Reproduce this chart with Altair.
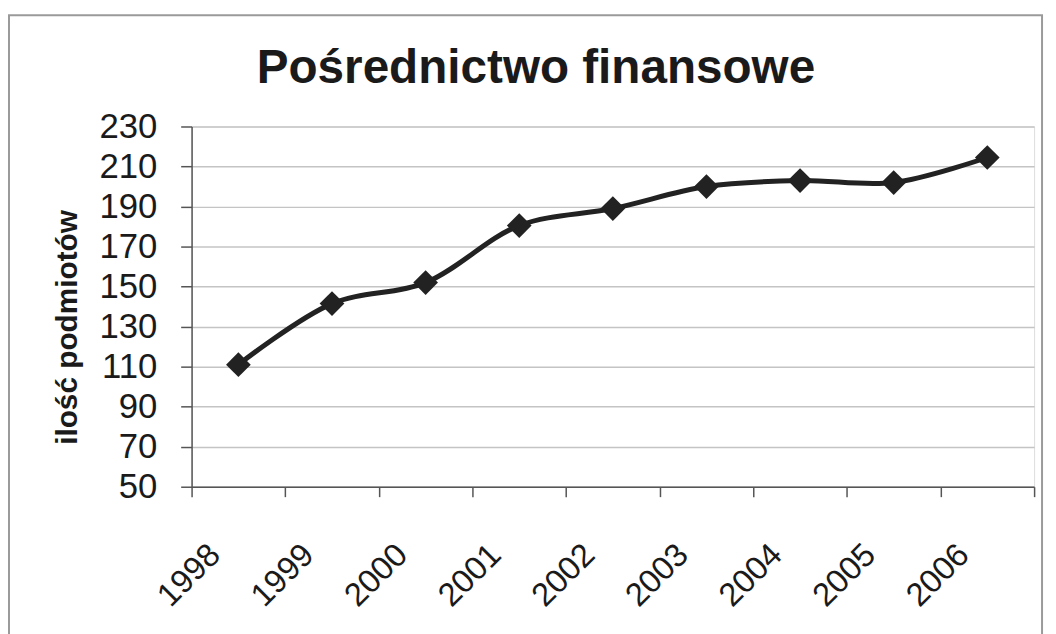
import altair as alt
import pandas as pd

years = ["1998", "1999", "2000", "2001", "2002", "2003", "2004", "2005", "2006"]
values = [111, 141.5, 152, 180.5, 189, 200, 203, 202, 214.5]
y_ticks = [50, 70, 90, 110, 130, 150, 170, 190, 210, 230]
title_text = "Pośrednictwo finansowe"
y_title = "ilość podmiotów"

df = pd.DataFrame({"rok": years, "ilosc": values})

FONT = "Liberation Sans"
INK = "#1a1a1a"

x_enc = alt.X(
    "rok:N",
    sort=years,
    scale=alt.Scale(paddingInner=0, paddingOuter=0),
    axis=alt.Axis(
        title=None,
        tickBand="extent",
        labelAngle=-45,
        labelAlign="right",
        labelBaseline="middle",
        labelFont=FONT,
        labelFontSize=33,
        labelColor=INK,
        labelPadding=53,
        labelOffset=-24,
        labelFlush=False,
        labelOverlap=False,
        tickSize=10,
        tickColor="#555",
        tickWidth=1.5,
        domainColor="#555",
        domainWidth=1.5,
        grid=False,
    ),
)
y_enc = alt.Y(
    "ilosc:Q",
    scale=alt.Scale(domain=[50, 230], nice=False, zero=False),
    axis=alt.Axis(
        title=y_title,
        values=y_ticks,
        titleFont=FONT,
        titleFontSize=30,
        titleFontWeight="bold",
        titleColor=INK,
        titleAngle=-90,
        titleX=-125,
        titleY=202,
        titleAlign="center",
        titleBaseline="middle",
        labelFont=FONT,
        labelFontSize=35,
        labelColor=INK,
        labelPadding=24,
        tickSize=11,
        tickColor="#555",
        tickWidth=1.5,
        domainColor="#555",
        domainWidth=1.5,
        gridColor="#c4c4c4",
        gridWidth=1.5,
    ),
)

base = alt.Chart(df)

line = base.mark_line(
    interpolate="catmull-rom", color="#222", strokeWidth=5
).encode(x=x_enc, y=y_enc)

points = base.mark_point(
    shape="diamond", filled=True, size=620, color="#222", opacity=1
).encode(x=x_enc, y=y_enc)

frame = alt.Chart(pd.DataFrame({"a": [0]})).mark_rect(
    fill=None, stroke="#9a9a9a", strokeWidth=2, clip=False
).encode(
    x=alt.value(-184),
    x2=alt.value(857),
    y=alt.value(-112),
    y2=alt.value(530),
)

title = alt.Chart(pd.DataFrame({"t": [title_text]})).mark_text(
    font=FONT,
    fontSize=48,
    fontWeight="bold",
    color=INK,
    align="center",
    baseline="alphabetic",
).encode(
    text="t:N",
    x=alt.value(347),
    y=alt.value(-44),
)

chart = (
    alt.layer(frame, line, points, title)
    .properties(
        width=849,
        height=363,
        autosize=alt.AutoSizeParams(type="none"),
        padding={"left": 185, "top": 117, "right": 14, "bottom": 146},
    )
    .configure_view(stroke=None)
    .configure(background="white")
)

chart.save("out.html", embed_options={"renderer": "svg", "actions": False})
